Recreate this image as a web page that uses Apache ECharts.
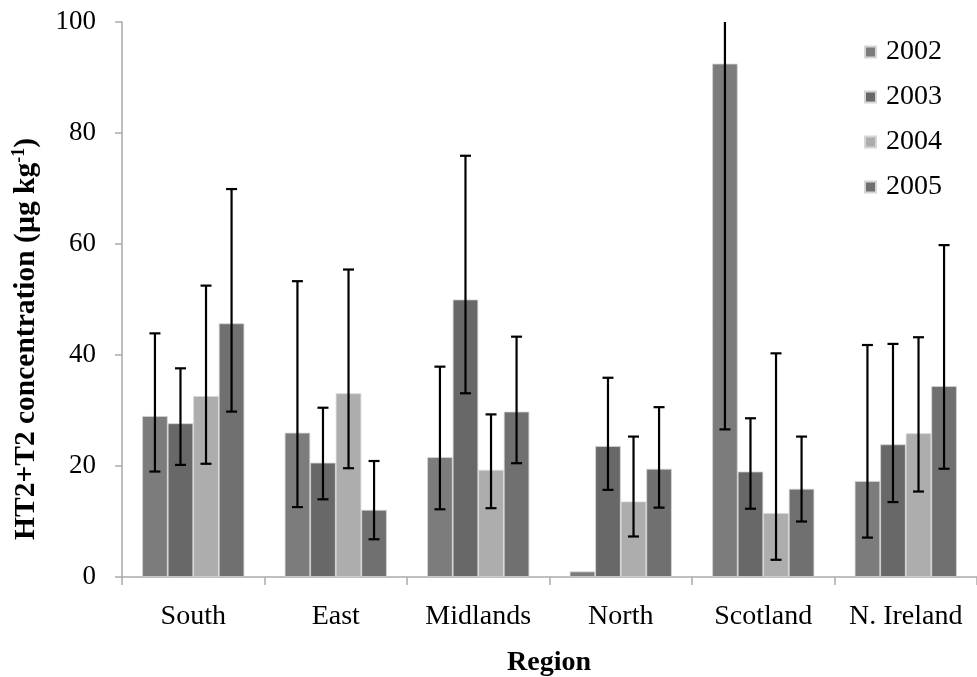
<!DOCTYPE html>
<html>
<head>
<meta charset="utf-8">
<script src="https://cdn.jsdelivr.net/npm/echarts@6/dist/echarts.min.js"></script>
<style>
html,body{margin:0;padding:0;background:#fff;}
#chart{width:977px;height:677px;}
</style>
</head>
<body>
<div id="chart"></div>
<script>
var categories = ['South', 'East', 'Midlands', 'North', 'Scotland', 'N. Ireland'];
var years = ['2002', '2003', '2004', '2005'];
var yTicks = [0, 20, 40, 60, 80, 100];

var v2002 = [29.0, 26.0, 21.6, 1.0, 92.5, 17.3];
var v2003 = [27.7, 20.6, 50.0, 23.6, 19.0, 23.9];
var v2004 = [32.6, 33.1, 19.3, 13.6, 11.5, 25.9];
var v2005 = [45.7, 12.1, 29.8, 19.5, 15.9, 34.4];

var lo2002 = [19.0, 12.6, 12.2, null, 26.6, 7.1];
var hi2002 = [43.9, 53.3, 37.9, null, 158, 41.8];
var lo2003 = [20.2, 14.0, 33.1, 15.7, 12.3, 13.5];
var hi2003 = [37.6, 30.5, 75.9, 35.9, 28.6, 42.0];
var lo2004 = [20.4, 19.6, 12.4, 7.3, 3.1, 15.4];
var hi2004 = [52.5, 55.4, 29.3, 25.3, 40.3, 43.2];
var lo2005 = [29.8, 6.8, 20.5, 12.5, 10.0, 19.5];
var hi2005 = [69.9, 20.9, 43.3, 30.6, 25.3, 59.8];

var values = [v2002, v2003, v2004, v2005];
var lows = [lo2002, lo2003, lo2004, lo2005];
var highs = [hi2002, hi2003, hi2004, hi2005];
var colors = ['#7c7c7c', '#686868', '#adadad', '#707070'];

var GAP = 0.283;
var FONT = '"Liberation Serif", "Times New Roman", serif';

var series = [];
years.forEach(function (y, i) {
  series.push({
    name: y,
    type: 'bar',
    data: values[i],
    barGap: '0%',
    barCategoryGap: (GAP * 100) + '%',
    itemStyle: { color: colors[i], borderColor: '#d6d6d6', borderWidth: 0.8 },
    emphasis: { disabled: true },
    z: 2
  });
});

years.forEach(function (y, i) {
  var data = [];
  for (var c = 0; c < categories.length; c++) {
    if (lows[i][c] != null) data.push([c, lows[i][c], highs[i][c]]);
  }
  series.push({
    type: 'custom',
    name: 'err' + y,
    clip: true,
    z: 5,
    data: data,
    encode: { x: 0, y: [1, 2] },
    renderItem: function (params, api) {
      var c = api.value(0);
      var lo = api.coord([c, api.value(1)]);
      var hi = api.coord([c, api.value(2)]);
      var bw = api.size([1, 0])[0] * (1 - GAP) / 4;
      var x = lo[0] + (i - 1.5) * bw;
      var half = 5.5;
      var st = { stroke: '#000', lineWidth: 2.2 };
      return {
        type: 'group',
        children: [
          { type: 'line', shape: { x1: x, y1: lo[1], x2: x, y2: hi[1] }, style: st },
          { type: 'line', shape: { x1: x - half, y1: lo[1], x2: x + half, y2: lo[1] }, style: st },
          { type: 'line', shape: { x1: x - half, y1: hi[1], x2: x + half, y2: hi[1] }, style: st }
        ]
      };
    }
  });
});

var chart = echarts.init(document.getElementById('chart'), null, { renderer: 'canvas' });
chart.setOption({
  animation: false,
  backgroundColor: '#ffffff',
  grid: { left: 122, top: 22, width: 870, height: 555, containLabel: false },
  legend: {
    data: years,
    orient: 'vertical',
    left: 859,
    top: 33,
    itemWidth: 11,
    itemHeight: 11,
    itemGap: 17,
    icon: 'rect',
    textStyle: { fontFamily: FONT, fontSize: 28, color: '#000', padding: [0, 0, 0, 5] }
  },
  xAxis: {
    type: 'category',
    data: categories,
    axisLine: { lineStyle: { color: '#aaaaaa', width: 1.5 } },
    axisTick: { show: true, length: 8, lineStyle: { color: '#aaaaaa', width: 1.5 } },
    axisLabel: { fontFamily: FONT, fontSize: 28, color: '#000', margin: 26, interval: 0 }
  },
  yAxis: {
    type: 'value',
    min: 0,
    max: 100,
    interval: 20,
    splitLine: { show: false },
    axisLine: { show: true, lineStyle: { color: '#aaaaaa', width: 1.5 } },
    axisTick: { show: true, length: 7, lineStyle: { color: '#aaaaaa', width: 1.5 } },
    axisLabel: {
      fontFamily: FONT, fontSize: 27, color: '#000', margin: 26,
      formatter: function (v) { return yTicks.indexOf(v) >= 0 ? String(v) : ''; }
    }
  },
  graphic: [
    {
      type: 'text',
      x: 26, y: 339,
      rotation: Math.PI / 2,
      style: {
        text: 'HT2+T2 concentration (µg kg{sup|-1})',
        fontFamily: FONT, fontSize: 29.5, fontWeight: 'bold', fill: '#000',
        align: 'center', verticalAlign: 'middle',
        rich: {
          sup: { fontFamily: FONT, fontSize: 18, fontWeight: 'bold', fill: '#000', padding: [0, 0, 13, 0] }
        }
      }
    },
    {
      type: 'text',
      x: 549, y: 663,
      style: {
        text: 'Region',
        fontFamily: FONT, fontSize: 28, fontWeight: 'bold', fill: '#000',
        align: 'center', verticalAlign: 'middle'
      }
    }
  ],
  series: series
});
</script>
</body>
</html>
